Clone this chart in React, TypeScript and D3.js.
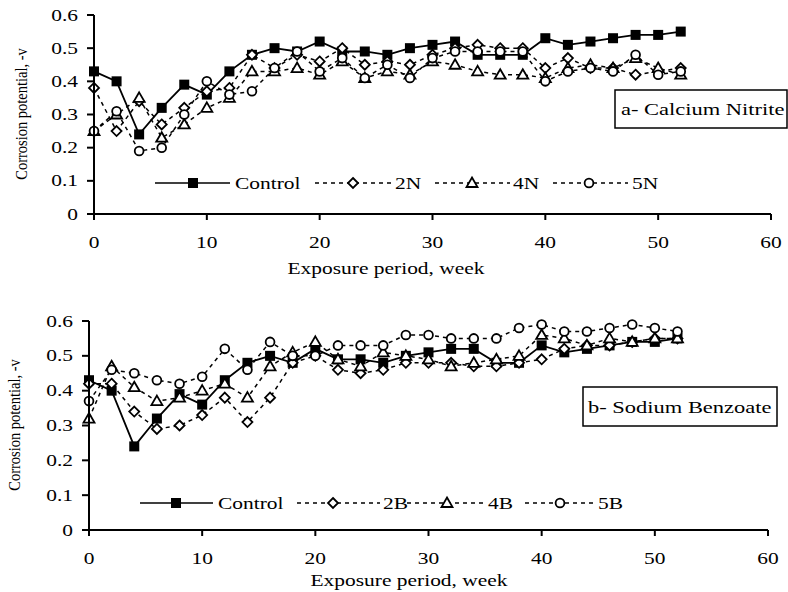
import * as d3 from "d3";

// exposure weeks (same for every series)
const WEEKS = [0, 2, 4, 6, 8, 10, 12, 14, 16, 18, 20, 22, 24, 26, 28, 30, 32, 34, 36, 38, 40, 42, 44, 46, 48, 50, 52];

// a- Calcium Nitrite
const CONTROL_A = [0.43, 0.40, 0.24, 0.32, 0.39, 0.36, 0.43, 0.48, 0.50, 0.49, 0.52, 0.49, 0.49, 0.48, 0.50, 0.51, 0.52, 0.48, 0.48, 0.48, 0.53, 0.51, 0.52, 0.53, 0.54, 0.54, 0.55];
const N2 = [0.38, 0.25, 0.34, 0.27, 0.32, 0.37, 0.38, 0.48, 0.44, 0.48, 0.46, 0.50, 0.45, 0.46, 0.45, 0.48, 0.50, 0.51, 0.50, 0.50, 0.44, 0.47, 0.44, 0.44, 0.42, 0.43, 0.44];
const N4 = [0.25, 0.30, 0.35, 0.23, 0.27, 0.32, 0.35, 0.43, 0.43, 0.44, 0.42, 0.46, 0.41, 0.43, 0.42, 0.46, 0.45, 0.43, 0.42, 0.42, 0.41, 0.44, 0.45, 0.44, 0.47, 0.44, 0.42];
const N5 = [0.25, 0.31, 0.19, 0.20, 0.30, 0.40, 0.36, 0.37, 0.44, 0.49, 0.43, 0.47, 0.41, 0.45, 0.41, 0.47, 0.49, 0.49, 0.49, 0.49, 0.40, 0.43, 0.44, 0.43, 0.48, 0.42, 0.43];

// b- Sodium Benzoate
const CONTROL_B = [0.43, 0.40, 0.24, 0.32, 0.39, 0.36, 0.43, 0.48, 0.50, 0.48, 0.52, 0.49, 0.49, 0.48, 0.50, 0.51, 0.52, 0.52, 0.48, 0.48, 0.53, 0.51, 0.52, 0.53, 0.54, 0.54, 0.55];
const B2 = [0.42, 0.42, 0.34, 0.29, 0.30, 0.33, 0.38, 0.31, 0.38, 0.48, 0.50, 0.46, 0.45, 0.46, 0.48, 0.48, 0.48, 0.47, 0.47, 0.48, 0.49, 0.52, 0.53, 0.53, 0.54, 0.55, 0.55];
const B4 = [0.32, 0.47, 0.41, 0.37, 0.38, 0.40, 0.42, 0.38, 0.47, 0.51, 0.54, 0.49, 0.47, 0.51, 0.50, 0.49, 0.47, 0.48, 0.49, 0.50, 0.56, 0.55, 0.53, 0.55, 0.54, 0.55, 0.55];
const B5 = [0.37, 0.46, 0.45, 0.43, 0.42, 0.44, 0.52, 0.46, 0.54, 0.50, 0.50, 0.53, 0.53, 0.53, 0.56, 0.56, 0.55, 0.55, 0.55, 0.58, 0.59, 0.57, 0.57, 0.58, 0.59, 0.58, 0.57];

const X_TICKS = [0, 10, 20, 30, 40, 50, 60];
const Y_TICKS = [0, 0.1, 0.2, 0.3, 0.4, 0.5, 0.6];
const Y_TICK_LABELS = ["0", "0.1", "0.2", "0.3", "0.4", "0.5", "0.6"];

const X_TITLE = "Exposure period, week";
const Y_TITLE = "Corrosion potential, -v";

const FONT = "'Liberation Serif', 'Times New Roman', serif";
const SX = 1.3; // the reference text is stretched horizontally
const DASH = "4,4";

type Kind = "square" | "diamond" | "triangle" | "circle";

const Marker = ({ kind, x, y }: { kind: Kind; x: number; y: number }) => {
  if (kind === "square") return <rect x={x - 5} y={y - 5} width={10} height={10} fill="#000" />;
  if (kind === "circle") return <circle cx={x} cy={y} r={4.4} fill="#fff" stroke="#000" strokeWidth={1.8} />;
  const d =
    kind === "diamond"
      ? `M${x},${y - 5}L${x + 5},${y}L${x},${y + 5}L${x - 5},${y}Z`
      : `M${x},${y - 5.5}L${x + 5.5},${y + 4}L${x - 5.5},${y + 4}Z`;
  return <path d={d} fill="#fff" stroke="#000" strokeWidth={1.8} strokeLinejoin="miter" />;
};

const SText = ({ x, y, anchor = "start", size = 16.5, children }: any) => (
  <text
    transform={`translate(${x},${y}) scale(${SX},1)`}
    textAnchor={anchor}
    fontFamily={FONT}
    fontSize={size}
    fill="#000"
  >
    {children}
  </text>
);

const Panel = ({ geo, series, legend, note }: any) => {
  const x = d3.scaleLinear().domain([0, 60]).range([geo.left, geo.right]);
  const y = d3.scaleLinear().domain([0, 0.6]).range([geo.bottom, geo.top]);
  const line = d3
    .line<number>()
    .x((_, i) => x(WEEKS[i]))
    .y((d) => y(d));

  return (
    <g>
      {/* series */}
      {series.map((s: any) => (
        <g key={s.name}>
          <path
            d={line(s.values) ?? ""}
            fill="none"
            stroke="#000"
            strokeWidth={s.dashed ? 1.5 : 1.8}
            strokeDasharray={s.dashed ? DASH : undefined}
          />
          {s.values.map((v: number, i: number) => (
            <Marker key={i} kind={s.marker} x={x(WEEKS[i])} y={y(v)} />
          ))}
        </g>
      ))}

      {/* axes */}
      <line x1={geo.left} x2={geo.right} y1={geo.bottom} y2={geo.bottom} stroke="#000" strokeWidth={2} />
      <line x1={geo.left} x2={geo.left} y1={geo.top} y2={geo.bottom} stroke="#000" strokeWidth={2} />
      {X_TICKS.map((t) => (
        <g key={t}>
          <line x1={x(t)} x2={x(t)} y1={geo.bottom} y2={geo.bottom + 6} stroke="#000" strokeWidth={2} />
          <SText x={x(t)} y={geo.xLabelY} anchor="middle">{t}</SText>
        </g>
      ))}
      {Y_TICKS.map((t, i) => (
        <g key={t}>
          <line x1={geo.left - 7} x2={geo.left} y1={y(t)} y2={y(t)} stroke="#000" strokeWidth={2} />
          <SText x={geo.yLabelX} y={y(t) + 5.5} anchor="end">{Y_TICK_LABELS[i]}</SText>
        </g>
      ))}
      <SText x={geo.xTitle[0]} y={geo.xTitle[1]} anchor="middle">{X_TITLE}</SText>
      <text
        transform={`translate(${geo.yTitle[0]},${geo.yTitle[1]}) rotate(-90) scale(1,1.15)`}
        textAnchor="middle"
        fontFamily={FONT}
        fontSize={14.5}
      >
        {Y_TITLE}
      </text>

      {/* legend */}
      {legend.map((it: any, i: number) => (
        <g key={i}>
          <line
            x1={it.from}
            x2={it.to}
            y1={geo.legendY}
            y2={geo.legendY}
            stroke="#000"
            strokeWidth={1.6}
            strokeDasharray={series[i].dashed ? DASH : undefined}
          />
          <Marker kind={series[i].marker} x={it.mark} y={geo.legendY} />
          <SText x={it.text} y={geo.legendY + 6}>{series[i].name}</SText>
        </g>
      ))}

      {/* panel note */}
      <rect x={note.x} y={note.y} width={note.w} height={note.h} fill="#fff" stroke="#000" strokeWidth={1.5} />
      <SText x={note.tx} y={note.ty} size={17.3}>{note.text}</SText>
    </g>
  );
};

const GEO_A = {
  left: 94, right: 771, top: 15, bottom: 214,
  xLabelY: 248, yLabelX: 78, xTitle: [386, 274], yTitle: [27, 114], legendY: 183,
};
const GEO_B = {
  left: 89, right: 768, top: 321, bottom: 530,
  xLabelY: 564, yLabelX: 73, xTitle: [409, 586], yTitle: [20, 425], legendY: 503,
};

const SERIES_A = [
  { name: "Control", values: CONTROL_A, marker: "square", dashed: false },
  { name: "2N", values: N2, marker: "diamond", dashed: true },
  { name: "4N", values: N4, marker: "triangle", dashed: true },
  { name: "5N", values: N5, marker: "circle", dashed: true },
];
const SERIES_B = [
  { name: "Control", values: CONTROL_B, marker: "square", dashed: false },
  { name: "2B", values: B2, marker: "diamond", dashed: true },
  { name: "4B", values: B4, marker: "triangle", dashed: true },
  { name: "5B", values: B5, marker: "circle", dashed: true },
];

const LEGEND_A = [
  { from: 155, to: 230, mark: 193, text: 235 },
  { from: 315, to: 393, mark: 353, text: 395 },
  { from: 435, to: 510, mark: 472, text: 513 },
  { from: 553, to: 628, mark: 589, text: 632 },
];
const LEGEND_B = [
  { from: 140, to: 213, mark: 176, text: 218 },
  { from: 297, to: 380, mark: 333, text: 383 },
  { from: 407, to: 485, mark: 447, text: 488 },
  { from: 525, to: 595, mark: 560, text: 598 },
];

export default function App() {
  return (
    <svg
      width={788}
      height={592}
      style={{ position: "absolute", left: 0, top: 0, background: "#fff" }}
    >
      <Panel
        geo={GEO_A}
        series={SERIES_A}
        legend={LEGEND_A}
        note={{ x: 615, y: 90, w: 172, h: 38, tx: 621, ty: 115, text: "a- Calcium Nitrite" }}
      />
      <Panel
        geo={GEO_B}
        series={SERIES_B}
        legend={LEGEND_B}
        note={{ x: 583, y: 387, w: 194, h: 39, tx: 588, ty: 413, text: "b- Sodium Benzoate" }}
      />
    </svg>
  );
}
